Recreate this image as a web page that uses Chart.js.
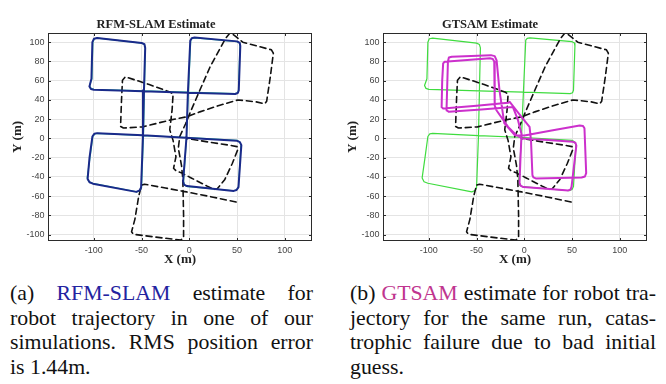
<!DOCTYPE html>
<html><head><meta charset="utf-8">
<script src="https://cdn.jsdelivr.net/npm/chart.js@4/dist/chart.umd.min.js"></script>
<style>
html,body{margin:0;padding:0;background:#fff;width:666px;height:384px;overflow:hidden;}
.box{position:absolute;top:0;width:333px;height:270px;}
.cap{position:absolute;top:281px;font-family:"Liberation Serif","Times New Roman",serif;font-size:21.8px;line-height:24.6px;color:#111;}
.cap div{white-space:nowrap;}
.cap .j{text-align:justify;text-align-last:justify;}
.b1{color:#2323a0;} .m1{color:#c0358f;}
</style></head>
<body>
<div class="box" style="left:0"><canvas id="c1" width="333" height="270"></canvas></div>
<div class="box" style="left:333px"><canvas id="c2" width="333" height="270"></canvas></div>
<div class="cap" style="left:10px;width:303px">
<div class="j">(a) <span class="b1">RFM-SLAM</span> estimate for</div>
<div class="j">robot trajectory in one of our</div>
<div class="j">simulations. RMS position error</div>
<div>is 1.44m.</div>
</div>
<div class="cap" style="left:350px;width:306px">
<div class="j">(b) <span class="m1">GTSAM</span> estimate for robot tra-</div>
<div class="j">jectory for the same run, catas-</div>
<div class="j">trophic failure due to bad initial</div>
<div>guess.</div>
</div>
<script>
const xTicks = [-100, -50, 0, 50, 100];
const yTicks = [-100, -80, -60, -40, -20, 0, 20, 40, 60, 80, 100];

// ground truth trajectory (green)
const groundTruth = [
 [0,1],[50,-2],[52.5,-3.5],[54,-6.5],[51.5,-50],[50,-53],[47,-54.3],[-2,-50],[-5,-48.5],[-6,-45],
 [-3,0],[-1,47],[1.5,102],[3,104],[6,104.5],[50,100.5],[52.5,99],[53,96],[51.5,50],[50.5,47.5],[48,46.5],
 [-1,48],[-48,49.5],[-100,51],[-103,52],[-104.5,55],[-102,62],[-101,100],[-99.5,103.5],[-96,104.2],
 [-50,99],[-47,97.5],[-46,94],[-47,50],[-48,3],[-50,-51],[-51.5,-54],[-55,-55.5],
 [-101,-46.5],[-105,-45],[-107,-41],[-104,-20],[-101,2],[-99,4.8],[-96,5.2],[-48,3],[0,1]
];
// RFM-SLAM estimate (blue)
const rfmSlam = [
 [0,0.5],[50,-2.5],[53,-3.8],[54.5,-7],[51.5,-50.5],[49.5,-53.5],[46.5,-54.5],[-2.5,-49.5],[-5.5,-48],[-6.5,-44.5],
 [-3,0.5],[-1.5,47],[1,101.5],[2.5,104],[5.5,104.8],[50,100.8],[52.8,99.2],[53.4,96],[51.8,50],[50.8,47.2],[48,46.2],
 [-1,47.5],[-48,49],[-100,50.5],[-103,51.3],[-104.6,54],[-102.5,62],[-101.5,100],[-99.8,103.6],[-96.5,104.4],
 [-50,99.2],[-47,97.8],[-46.2,94],[-47.5,50],[-48.5,3],[-50.5,-51],[-52,-54],[-55.5,-55.5],
 [-101,-47],[-104.5,-45.5],[-106.5,-42],[-104.5,-20],[-101.5,2],[-99.5,4.8],[-96.5,5.5],[-48.5,3.2],[0,0.5]
];
// initial guess / odometry (dashed black)
const initialGuess = [
 [49,-66],[25,-61],[-3,-55.5],[-25,-51.5],[-47,-47.5],[-50,-48.5],
 [-53,-60],[-57,-84],[-60.5,-97],[-58.5,-99.5],
 [-35,-102.5],[-9,-105.5],[-6,-103.5],
 [-6,-80],[-6.5,-56],[-6.8,-42],[-8.2,-28],[-11.5,-10],[-10,2],[-4,15],[0.5,26],[11,50],[21.6,74],[38,104],[43,110],
 [48.5,106],[56,100],[86,92],[88,88.5],
 [85,65],[81,38.5],[79,36],
 [70,38],[51,40],[32,34.5],[11,27.6],[-3,22.4],[-20.5,19],[-41.6,13.8],[-49,12],[-69,10.8],[-72,12.5],
 [-71,40],[-70,60.5],[-67,64],
 [-42,56],[-20.5,48.3],[-17,46],
 [-18,30],[-20.5,9],[-17,-2],[-14,-19],[-16.5,-31],[-14,-33.5],
 [-10,-35],[2,-41],[19.5,-50],[26,-53],[29,-52.5],
 [37,-43],[45,-26],[51,-11],[50,-8.5],
 [45,-7.5],[25,-4.5],[-3,0]
];
// GTSAM estimate (magenta)
const gtsam = [
 [-1.4,0],[25,-1.5],[51,-3.5],[53.5,-4.5],[54.5,-7.5],[49.5,-50],[48.5,-53],[46,-54],[20,-52],[-1,-50.5],[-4,-49],[-5,-46],[-4,-20],[-3,2],
 [-3,5],[-6.6,19],[-12,32.7],
 [-45,30],[-79,27.6],[-81,29],[-81.4,32],
 [-80,80],[-79,84],[-76,84.8],
 [-35,86.5],[-31,85.5],[-29,81],
 [-26,50],[-21,16],[-10,3.4],[0,3],
 [30,8.5],[58,13.5],[61.5,13],[63,10.5],
 [64.8,-36],[63.5,-39.5],[60,-40.5],
 [12,-41.5],[9.5,-40.5],[8.5,-38],
 [7,-2],[5.5,12],[-3,22.4],[-15.3,38],
 [-17,37],[-50,34],[-85,31],[-86.6,32.5],
 [-86,60],[-85,78],[-83.5,79.6],
 [-36,83.2],[-33,82.5],[-31.5,80],
 [-31,34],[-29,29],[-17,12],[-8,3],[-1.4,0]
];

const pts = a => a.map(p => ({x: p[0], y: p[1]}));

const frame = {
  id: 'frame',
  afterDatasetsDraw(chart) {
    const {ctx, chartArea: a, scales: {x, y}} = chart;
    ctx.save();
    ctx.strokeStyle = '#2b2b2b';
    ctx.lineWidth = 1;
    ctx.beginPath();
    xTicks.forEach(v => {
      const p = Math.round(x.getPixelForValue(v)) + 0.5;
      ctx.moveTo(p, a.bottom); ctx.lineTo(p, a.bottom - 3);
      ctx.moveTo(p, a.top); ctx.lineTo(p, a.top + 3);
    });
    yTicks.forEach(v => {
      const p = Math.round(y.getPixelForValue(v)) + 0.5;
      ctx.moveTo(a.left, p); ctx.lineTo(a.left + 3, p);
      ctx.moveTo(a.right, p); ctx.lineTo(a.right - 3, p);
    });
    ctx.stroke();
    ctx.strokeRect(Math.round(a.left) + 0.5, Math.round(a.top) + 0.5, Math.round(a.width) - 1, Math.round(a.height) - 1);
    ctx.restore();
  }
};

function makeChart(id, title, estimate, estColor, leftW, rightPad, yTitlePad) {
  const sets = [
    {data: pts(estimate), borderColor: estColor, borderWidth: 2, order: 0},
    {data: pts(initialGuess), borderColor: '#111', borderWidth: 1.6, borderDash: [6, 4], order: 1},
    {data: pts(groundTruth), borderColor: id === 'c1' ? '#45d6a8' : '#3fdc3f', borderWidth: id === 'c1' ? 1.2 : 1.2, order: 2}
  ];
  sets.forEach(s => { s.showLine = true; s.pointRadius = 0; s.fill = false; s.tension = 0; s.borderJoinStyle = 'round'; s.borderCapStyle = 'round'; });
  return new Chart(document.getElementById(id), {
    type: 'scatter',
    data: {datasets: sets},
    options: {
      responsive: false, animation: false, devicePixelRatio: 1,
      layout: {padding: {left: 0, right: rightPad, top: 0, bottom: 0}},
      plugins: {
        legend: {display: false}, tooltip: {enabled: false},
        title: {display: true, text: title, color: '#222',
          font: {family: 'Liberation Serif', size: 12.5, weight: 'bold', lineHeight: 1.2},
          padding: {top: 17.5, bottom: 0.5}}
      },
      scales: {
        x: {type: 'linear', min: -148, max: 128.5,
          afterBuildTicks: s => { s.ticks = xTicks.map(v => ({value: v})); },
          afterFit: s => { s.height = 29; },
          grid: {color: '#e4e4e4', drawTicks: false, lineWidth: 1},
          border: {display: false},
          ticks: {padding: 4, color: '#444', font: {family: 'Liberation Sans', size: 9}},
          title: {display: true, text: 'X (m)', color: '#222', padding: {top: 0, bottom: 2.5},
            font: {family: 'Liberation Serif', size: 13, weight: 'bold'}}
        },
        y: {type: 'linear', min: -106.5, max: 109.5,
          afterBuildTicks: s => { s.ticks = yTicks.map(v => ({value: v})); },
          afterFit: s => { s.width = leftW; },
          grid: {color: '#e4e4e4', drawTicks: false, lineWidth: 1},
          border: {display: false},
          ticks: {padding: 3.5, color: '#444', font: {family: 'Liberation Sans', size: 9}},
          title: {display: true, text: 'Y (m)', color: '#222', padding: {top: yTitlePad, bottom: 0},
            font: {family: 'Liberation Serif', size: 13, weight: 'bold'}}
        }
      }
    },
    plugins: [frame]
  });
}

makeChart('c1', 'RFM-SLAM Estimate', rfmSlam, '#1a2a8a', 48, 21, 10);
makeChart('c2', 'GTSAM Estimate', gtsam, '#cc30cc', 50, 19, 12);
</script>
</body></html>
